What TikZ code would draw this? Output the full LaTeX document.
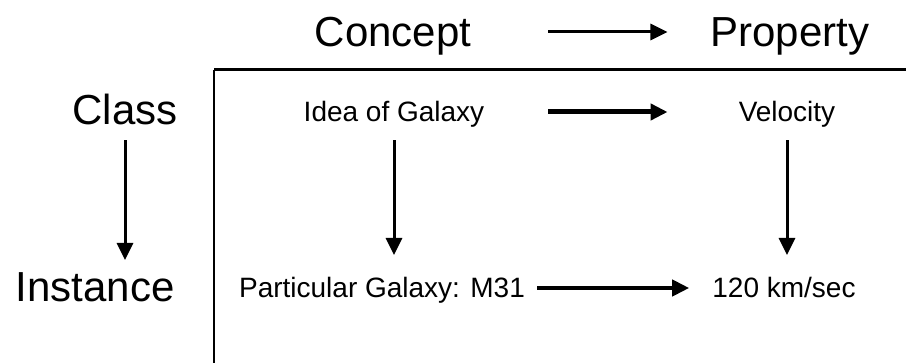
\documentclass[tikz,border=0pt]{standalone}
\usepackage{fontspec}
\setmainfont{Liberation Sans}
\usetikzlibrary{arrows.meta}
\begin{document}
\begin{tikzpicture}[x=1pt,y=-1pt,
  big/.style={inner sep=0pt,text height=30pt,text depth=0pt,font=\fontsize{42}{46}\selectfont},
  small/.style={inner sep=0pt,text height=20pt,text depth=0pt,font=\fontsize{28}{32}\selectfont},
  arr/.style={-{Triangle[length=17pt,width=16pt]}}]
\useasboundingbox (0,0) rectangle (906,363);
\node[big] (concept) at (393,32) {Concept};
\node[big] (property) at (790,32) {Property};
\node[big] (class) at (125,110) {Class};
\node[big] (instance) at (95,287) {Instance};
\node[small] (idea) at (394,112) {Idea of Galaxy};
\node[small] (velocity) at (787,112) {Velocity};
\node[small] (particular) at (382,288) {Particular Galaxy: M31};
\node[small] (speed) at (784,288) {120 km/sec};
\coordinate (hl) at (214,70);
\coordinate (hr) at (906,70);
\coordinate (vb) at (214,363);
\draw[line width=3pt] (hl) -- (hr);
\draw[line width=2pt] (hl) -- (vb);
\draw[arr,line width=3pt,shorten <=77pt,shorten >=43pt] (concept) -- (property);
\draw[arr,line width=5pt,shorten <=64pt,shorten >=71pt] (idea) -- (velocity);
\draw[arr,line width=4pt,shorten <=12pt,shorten >=23pt] (particular) -- (speed);
\draw[arr,line width=3pt,shorten <=15pt,shorten >=27pt] (class) -- (class |- instance);
\draw[arr,line width=3pt,shorten <=18pt,shorten >=33pt] (idea) -- (idea |- particular);
\draw[arr,line width=3pt,shorten <=18pt,shorten >=33pt] (velocity) -- (velocity |- speed);
\end{tikzpicture}
\end{document}
